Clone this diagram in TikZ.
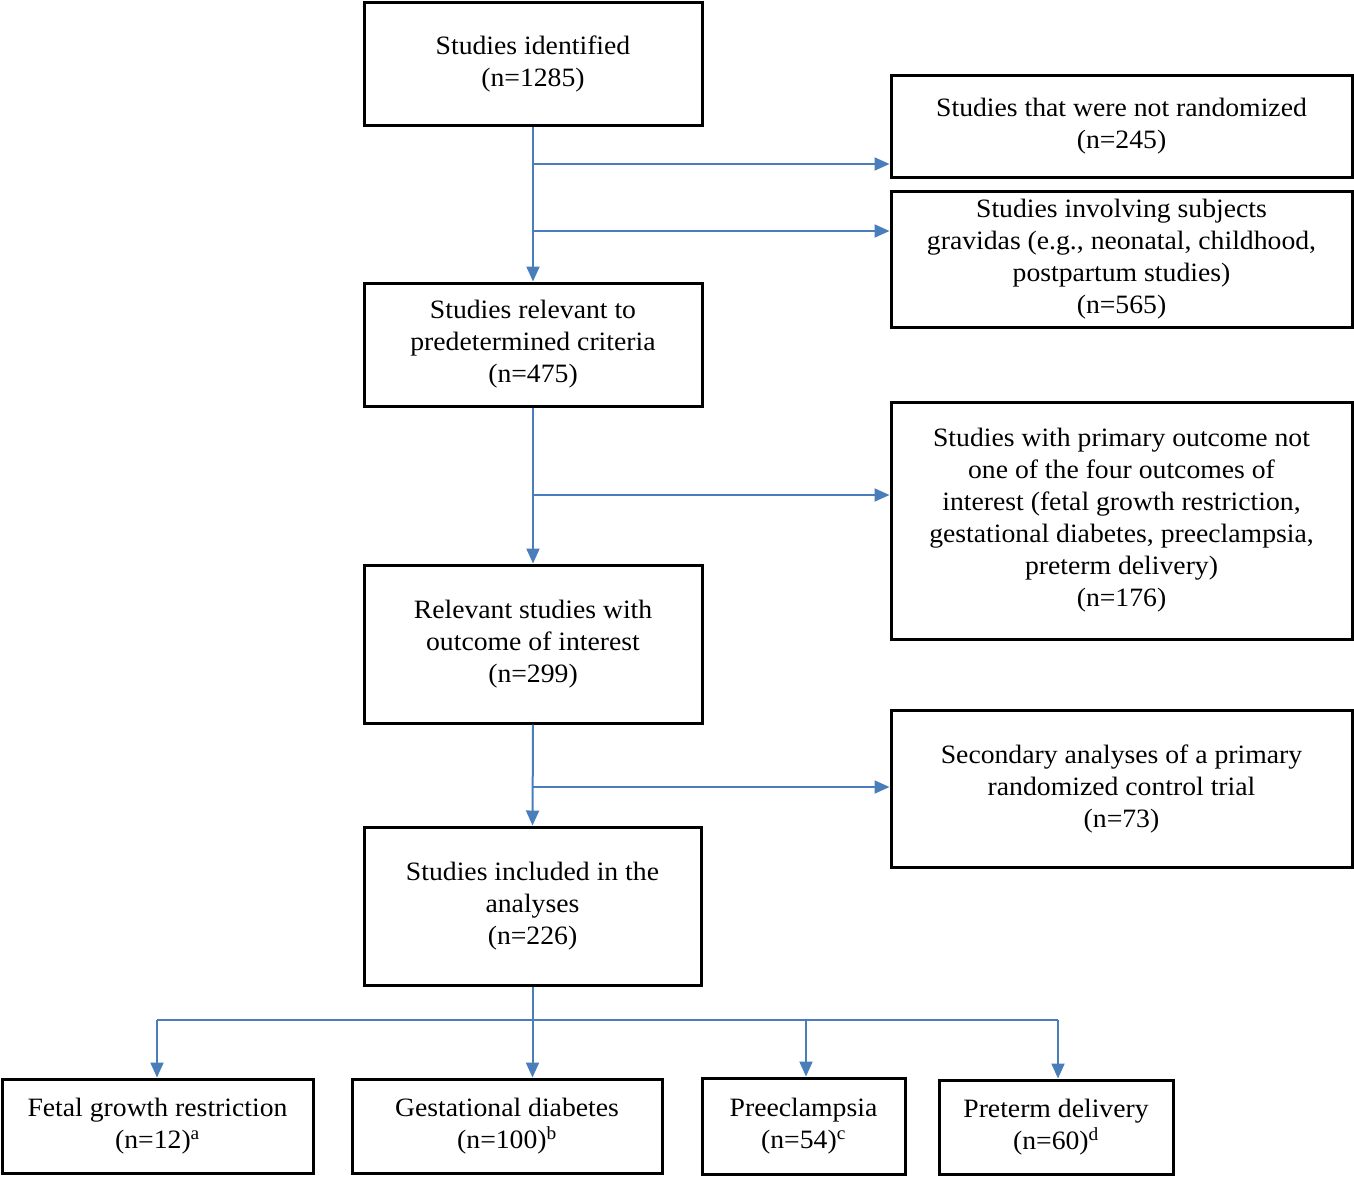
\documentclass[tikz,border=0pt]{standalone}
\usepackage{fontspec}
\setmainfont{Liberation Serif}[FakeStretch=1.045]
\usetikzlibrary{arrows.meta}
\definecolor{arrblue}{RGB}{74,126,187}
\begin{document}
\begin{tikzpicture}[x=1pt,y=-1pt,
  box/.style={draw=black,line width=3pt,inner sep=0pt,align=center,
    font=\fontsize{26.5}{32}\selectfont},
  conn/.style={draw=arrblue,line width=2pt},
  arr/.style={conn,-{Triangle[length=15pt,width=13pt]}}]
\useasboundingbox (0,0) rectangle (1354,1176);
% main column
\node[box,minimum width=338pt,minimum height=123pt] (A) at (533,63.5) {Studies identified\\(n=1285)};
\node[box,minimum width=338pt,minimum height=123pt] (C) at (533,344.5) {Studies relevant to\\predetermined criteria\\(n=475)};
\node[box,minimum width=338pt,minimum height=158pt] (E) at (533,644) {Relevant studies with\\outcome of interest\\(n=299)};
\node[box,minimum width=337pt,minimum height=158pt] (F) at (532.5,906) {Studies included in the\\analyses\\(n=226)};
% right column
\node[box,minimum width=461pt,minimum height=102pt] (B1) at (1121.5,126) {Studies that were not randomized\\(n=245)};
\node[box,minimum width=461pt,minimum height=136pt] (B2) at (1121.5,259) {Studies involving subjects\\gravidas (e.g., neonatal, childhood,\\postpartum studies)\\(n=565)};
\node[box,minimum width=461pt,minimum height=237pt] (D1) at (1121.5,520.5) {Studies with primary outcome not\\one of the four outcomes of\\interest (fetal growth restriction,\\gestational diabetes, preeclampsia,\\preterm delivery)\\(n=176)};
\node[box,minimum width=461pt,minimum height=157pt] (D2) at (1121.5,788.5) {Secondary analyses of a primary\\randomized control trial\\(n=73)};
% bottom row
\node[box,minimum width=311pt,minimum height=94pt] (G1) at (157.5,1126) {Fetal growth restriction\\(n=12)\textsuperscript{a}};
\node[box,minimum width=310pt,minimum height=94pt] (G2) at (507,1126) {Gestational diabetes\\(n=100)\textsuperscript{b}};
\node[box,minimum width=203pt,minimum height=96pt] (G3) at (803.5,1126) {Preeclampsia\\(n=54)\textsuperscript{c}};
\node[box,minimum width=234pt,minimum height=94pt] (G4) at (1056,1127) {Preterm delivery\\(n=60)\textsuperscript{d}};
% connectors
\draw[arr] (A.south) -- (C.north);
\coordinate (b1) at (533,164);
\coordinate (b2) at (533,231);
\draw[arr] (b1) -- (b1 -| B1.west);
\draw[arr] (b2) -- (b2 -| B2.west);
\draw[arr] (C.south) -- (E.north);
\coordinate (d1) at (533,495);
\draw[arr] (d1) -- (d1 -| D1.west);
\draw[arr] (E.south) -- (F.north);
\coordinate (d2) at (533,787);
\draw[arr] (d2) -- (d2 -| D2.west);
\coordinate (j) at (532.5,1020);
\coordinate (j1) at (157,1020);
\coordinate (j3) at (806,1020);
\coordinate (j4) at (1058,1020);
\draw[conn] (F.south) -- (j);
\draw[conn] (j1) -- (j4);
\draw[arr] (j1) -- (j1 |- G1.north);
\draw[arr] (j) -- (j |- G2.north);
\draw[arr] (j3) -- (j3 |- G3.north);
\draw[arr] (j4) -- (j4 |- G4.north);
\end{tikzpicture}
\end{document}
